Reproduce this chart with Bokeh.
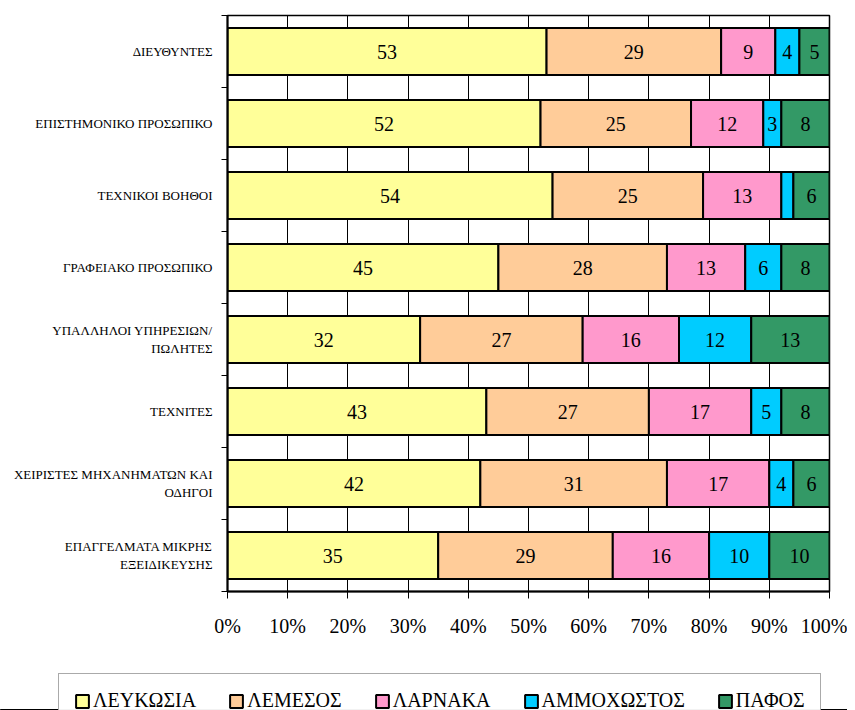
from bokeh.plotting import figure
from bokeh.models import (Range1d, FixedTicker, PrintfTickFormatter, Legend, LegendItem,
                          ColumnDataSource)
from bokeh.core.properties import value
from bokeh.embed import file_html
from bokeh.resources import INLINE

# ---- data (percent) ----
categories = [
    "ΔΙΕΥΘΥΝΤΕΣ",
    "ΕΠΙΣΤΗΜΟΝΙΚΟ ΠΡΟΣΩΠΙΚΟ",
    "ΤΕΧΝΙΚΟΙ ΒΟΗΘΟΙ",
    "ΓΡΑΦΕΙΑΚΟ ΠΡΟΣΩΠΙΚΟ",
    "ΥΠΑΛΛΗΛΟΙ ΥΠΗΡΕΣΙΩΝ/\nΠΩΛΗΤΕΣ",
    "ΤΕΧΝΙΤΕΣ",
    "ΧΕΙΡΙΣΤΕΣ ΜΗΧΑΝΗΜΑΤΩΝ ΚΑΙ\nΟΔΗΓΟΙ",
    "ΕΠΑΓΓΕΛΜΑΤΑ ΜΙΚΡΗΣ\nΕΞΕΙΔΙΚΕΥΣΗΣ",
]
series_names = ["ΛΕΥΚΩΣΙΑ", "ΛΕΜΕΣΟΣ", "ΛΑΡΝΑΚΑ", "ΑΜΜΟΧΩΣΤΟΣ", "ΠΑΦΟΣ"]
lefkosia    = [53, 52, 54, 45, 32, 43, 42, 35]
lemesos     = [29, 25, 25, 28, 27, 27, 31, 29]
larnaka     = [9, 12, 13, 13, 16, 17, 17, 16]
ammochostos = [4, 3, 2, 6, 12, 5, 4, 10]
pafos       = [5, 8, 6, 8, 13, 8, 6, 10]
x_ticks = [0, 10, 20, 30, 40, 50, 60, 70, 80, 90, 100]

colors = ["#FFFF99", "#FFCC99", "#FF99CC", "#00CCFF", "#339966"]
series = [lefkosia, lemesos, larnaka, ammochostos, pafos]

FONT = "Liberation Serif"
n = len(categories)
ypos = [n - i for i in range(n)]  # top row highest

p = figure(width=847, height=660, output_backend="svg", toolbar_location=None,
           x_range=Range1d(0, 100), y_range=Range1d(0.5, n + 0.5),
           min_border_left=227, min_border_right=18, min_border_top=15,
           min_border_bottom=69)
p.outline_line_color = "black"
p.outline_line_width = 1.5
p.background_fill_color = "white"
p.border_fill_color = "white"

# grid
p.xgrid.ticker = FixedTicker(ticks=x_ticks)
p.xgrid.grid_line_color = "black"
p.xgrid.grid_line_width = 1
p.ygrid.grid_line_color = None

# bars
left = [0.0] * n
sources = []
for name, vals, col in zip(series_names, series, colors):
    right = [l + v for l, v in zip(left, vals)]
    src = ColumnDataSource(dict(
        y=ypos, left=left, right=right,
        xc=[(l + r) / 2 for l, r in zip(left, right)],
        lab=[str(v) if v >= 3 else "" for v in vals],
    ))
    sources.append(src)
    p.hbar(y="y", left="left", right="right", height=0.65, source=src,
           fill_color=col, line_color="black", line_width=2)
    p.text(x="xc", y="y", text="lab", source=src, text_align="center",
           text_baseline="middle", text_font=value(FONT),
           text_font_size="20px", text_color="black")
    left = right

# x axis
xa = p.xaxis[0]
xa.ticker = FixedTicker(ticks=x_ticks)
xa.formatter = PrintfTickFormatter(format="%d%%")
xa.major_label_text_font = FONT
xa.major_label_text_font_size = "20px"
xa.major_label_text_color = "black"
xa.axis_line_color = "black"
xa.axis_line_width = 2
xa.major_tick_out = 7
xa.major_tick_in = 0
xa.major_tick_line_color = "black"
xa.major_label_standoff = 16

# y axis
ya = p.yaxis[0]
ya.ticker = FixedTicker(ticks=ypos, minor_ticks=[k + 0.5 for k in range(n + 1)])
ya.major_label_overrides = {y: c for y, c in zip(ypos, categories)}
ya.major_label_text_font = FONT
ya.major_label_text_font_size = "13px"
ya.major_label_text_color = "black"
ya.major_tick_out = 0
ya.major_tick_in = 0
ya.minor_tick_out = 6
ya.minor_tick_in = 0
ya.minor_tick_line_color = "black"
ya.axis_line_color = "black"
ya.axis_line_width = 2
ya.major_label_standoff = 9

# legend strip: a second root whose frame spans its whole width;
# it reuses the bar sources but its y range shows none of the bars
lf = figure(width=847, height=50, output_backend="svg", toolbar_location=None,
            x_axis_location=None, y_axis_location=None,
            x_range=Range1d(0, 100), y_range=Range1d(n + 10, n + 11),
            min_border=0, min_border_left=0, min_border_right=0,
            min_border_top=0, min_border_bottom=0)
lf.outline_line_color = None
lf.xgrid.grid_line_color = None
lf.ygrid.grid_line_color = None
items = []
for name, col, src in zip(series_names, colors, sources):
    r = lf.hbar(y="y", left="left", right="right", height=0.65, source=src,
                fill_color=col, line_color="black", line_width=2)
    items.append(LegendItem(label=name, renderers=[r]))

legend = Legend(items=items, orientation="horizontal", location=(58, -18))
legend.label_text_font = FONT
legend.label_text_font_size = "20px"
legend.label_text_color = "black"
legend.label_height = 20
legend.glyph_height = 16
legend.glyph_width = 16
legend.label_standoff = 3
legend.spacing = 32
legend.padding = 15
legend.margin = 0
legend.border_line_color = "#555555"
legend.border_line_width = 1
legend.background_fill_color = "white"
lf.add_layout(legend, "center")

open("out.html", "w").write(file_html([p, lf], INLINE))
